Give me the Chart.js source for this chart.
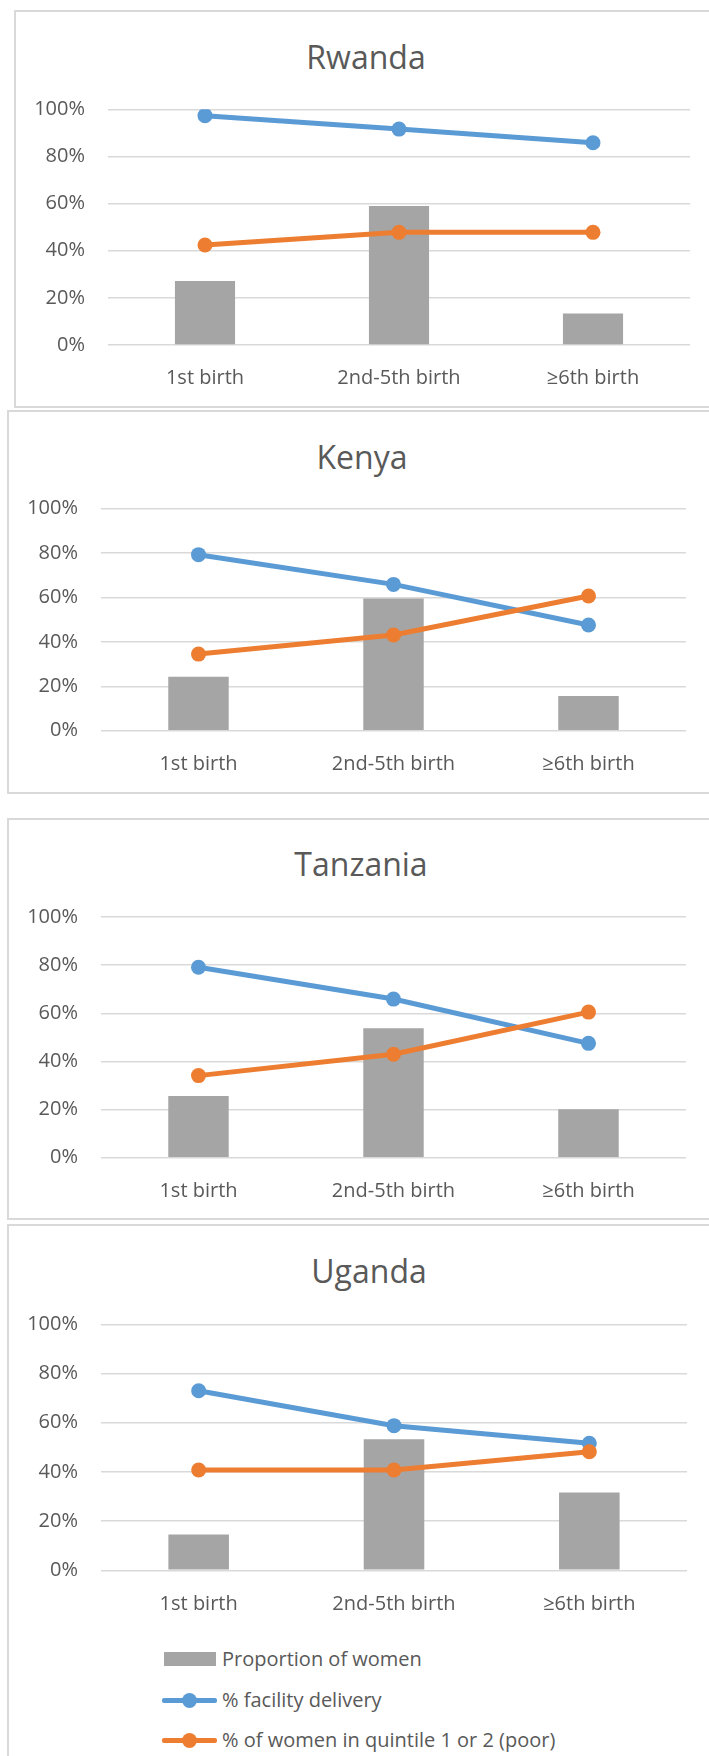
<!DOCTYPE html>
<html lang="en">
<head>
<meta charset="UTF-8">
<title>Birth order charts</title>
<style>
    html, body { margin: 0; padding: 0; background: #fff; overflow: hidden; }
    body { width: 709px; height: 1756px; position: relative; font-family: 'Open Sans', sans-serif; }
    .painel { position: absolute; box-sizing: border-box; border: 2px solid #d9d9d9; background: #fff; }
    canvas { position: absolute; left: 0; }
    .titulo { position: absolute; width: 400px; text-align: center; font-size: 32px; line-height: 38px; color: #595959; }
    .item { position: absolute; left: 0; width: 709px; height: 30px; color: #595959; font-size: 20px; }
    .item span.txt { position: absolute; left: 222px; top: 0; line-height: 30px; white-space: nowrap; }
    .caixa { position: absolute; left: 164px; top: 8px; width: 52px; height: 14px; }
    .linha { position: absolute; left: 162px; top: 13px; width: 55px; height: 5px; border-radius: 2px; }
    .ponto { position: absolute; left: 182px; top: 8px; width: 15px; height: 15px; border-radius: 50%; }
</style>
<script src="https://cdn.jsdelivr.net/npm/chart.js"></script>
</head>
<body>

<script>
    // dados
    var categories = ['1st birth', '2nd-5th birth', '≥6th birth'];
    var seriesNames = ['Proportion of women', '% facility delivery', '% of women in quintile 1 or 2 (poor)'];
    var yTickValues = [0, 20, 40, 60, 80, 100];

    var countries = ['Rwanda', 'Kenya', 'Tanzania', 'Uganda'];

    var womenRwanda = [27.2, 59.0, 13.4];
    var facilityRwanda = [97.3, 91.6, 85.8];
    var poorRwanda = [42.4, 47.8, 47.8];

    var womenKenya = [24.3, 59.6, 15.6];
    var facilityKenya = [79.3, 65.9, 47.6];
    var poorKenya = [34.5, 43.1, 60.7];

    var womenTanzania = [25.6, 53.8, 20.1];
    var facilityTanzania = [79.1, 65.9, 47.5];
    var poorTanzania = [34.1, 43.0, 60.5];

    var womenUganda = [14.6, 53.3, 31.6];
    var facilityUganda = [73.0, 58.8, 51.6];
    var poorUganda = [40.8, 40.8, 48.2];

    var gray = '#a5a5a5';
    var blue = '#5b9bd5';
    var orange = '#ed7d31';

    // posicao de cada painel na pagina
    var layoutPaineis = [
        { box: [14, 10, 720, 398], top: 11, height: 396, plotLeft: 108, plotRight: 690, plotTop: 109.3, plotBottom: 345, titleX: 366, titleY: 55 },
        { box: [7, 410, 720, 384], top: 411, height: 382, plotLeft: 101, plotRight: 686, plotTop: 508.7, plotBottom: 730.7, titleX: 362, titleY: 455 },
        { box: [7, 818, 720, 402], top: 819, height: 400, plotLeft: 101, plotRight: 686, plotTop: 917, plotBottom: 1157.7, titleX: 361, titleY: 862.7 },
        { box: [7, 1224, 720, 600], top: 1225, height: 410, plotLeft: 101, plotRight: 687, plotTop: 1324.3, plotBottom: 1570.3, titleX: 369, titleY: 1269 }
    ];

    Chart.defaults.font.family = "'Open Sans', sans-serif";
    Chart.defaults.color = '#595959';

    function desenharGrafico(i, titulo, women, facility, poor) {
        var g = layoutPaineis[i];

        var painel = document.createElement('div');
        painel.className = 'painel';
        painel.style.left = g.box[0] + 'px';
        painel.style.top = g.box[1] + 'px';
        painel.style.width = g.box[2] + 'px';
        painel.style.height = g.box[3] + 'px';
        document.body.appendChild(painel);

        var t = document.createElement('div');
        t.className = 'titulo';
        t.textContent = titulo;
        t.style.left = (g.titleX - 200) + 'px';
        t.style.top = (g.titleY - 17.5) + 'px';
        document.body.appendChild(t);

        var canvas = document.createElement('canvas');
        canvas.width = 709;
        canvas.height = g.height;
        canvas.style.top = g.top + 'px';
        document.body.appendChild(canvas);

        new Chart(canvas, {
            type: 'bar',
            data: {
                labels: categories,
                datasets: [
                    {
                        type: 'bar', label: seriesNames[0], data: women,
                        backgroundColor: gray, categoryPercentage: 1, barPercentage: 0.31, order: 3
                    },
                    {
                        type: 'line', label: seriesNames[1], data: facility,
                        borderColor: blue, backgroundColor: blue, borderWidth: 5,
                        pointRadius: 7.5, pointHoverRadius: 7.5, pointBorderWidth: 0, order: 2
                    },
                    {
                        type: 'line', label: seriesNames[2], data: poor,
                        borderColor: orange, backgroundColor: orange, borderWidth: 5,
                        pointRadius: 7.5, pointHoverRadius: 7.5, pointBorderWidth: 0, order: 1
                    }
                ]
            },
            options: {
                responsive: false,
                animation: false,
                layout: { padding: { left: 0, right: 709 - g.plotRight, top: g.plotTop - g.top, bottom: 0 } },
                plugins: {
                    legend: { display: false },
                    tooltip: { enabled: false }
                },
                scales: {
                    x: {
                        offset: true,
                        grid: { display: false },
                        border: { display: false },
                        ticks: { color: '#595959', font: { size: 20 }, padding: 13.5, maxRotation: 0 },
                        afterFit: function (s) { s.height = g.top + g.height - g.plotBottom; }
                    },
                    y: {
                        min: 0,
                        max: 100,
                        grid: { color: '#d9d9d9', lineWidth: 1.5, drawTicks: false },
                        border: { display: false },
                        ticks: {
                            color: '#595959', font: { size: 20 }, padding: 23,
                            callback: function (v) { return v + '%'; }
                        },
                        afterBuildTicks: function (s) {
                            s.ticks = yTickValues.map(function (v) { return { value: v }; });
                        },
                        afterFit: function (s) { s.width = g.plotLeft; }
                    }
                }
            }
        });
    }

    desenharGrafico(0, countries[0], womenRwanda, facilityRwanda, poorRwanda);
    desenharGrafico(1, countries[1], womenKenya, facilityKenya, poorKenya);
    desenharGrafico(2, countries[2], womenTanzania, facilityTanzania, poorTanzania);
    desenharGrafico(3, countries[3], womenUganda, facilityUganda, poorUganda);

    // legenda embaixo do ultimo grafico
    var legendaTops = [1644, 1685, 1725];
    var legendaCores = [gray, blue, orange];
    for (var k = 0; k < seriesNames.length; k++) {
        var item = document.createElement('div');
        item.className = 'item';
        item.style.top = legendaTops[k] + 'px';
        if (k == 0) {
            item.innerHTML = '<div class="caixa" style="background:' + gray + '"></div>';
        } else {
            item.innerHTML = '<div class="linha" style="background:' + legendaCores[k] + '"></div>' +
                '<div class="ponto" style="background:' + legendaCores[k] + '"></div>';
        }
        item.innerHTML += '<span class="txt">' + seriesNames[k] + '</span>';
        document.body.appendChild(item);
    }
</script>
</body>
</html>
